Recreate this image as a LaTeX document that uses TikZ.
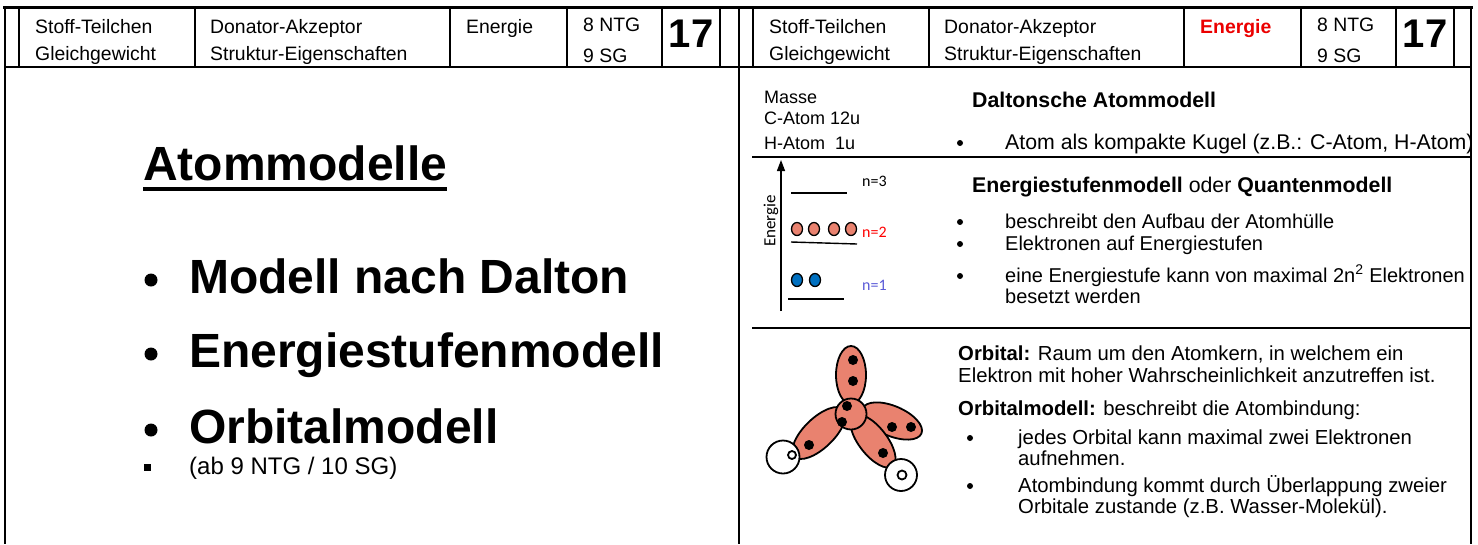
\documentclass[tikz,border=0pt]{standalone}
\usepackage{fontspec}
\setmainfont{Liberation Sans}
\newfontfamily\calfont{Carlito}
\usetikzlibrary{arrows.meta}

\definecolor{lobe}{RGB}{233,130,111}
\definecolor{eblue}{RGB}{0,112,192}
\definecolor{nblue}{RGB}{90,90,215}
\definecolor{hdrred}{RGB}{235,0,0}
\newcommand{\px}[1]{\fontsize{#1}{#1}\selectfont}

\begin{document}
\begin{tikzpicture}[x=1pt,y=-1pt,
  txt/.style={anchor=base west,inner sep=0pt},
  hdr/.style={txt,font=\px{19.4}},
  small/.style={txt,font=\px{18}},
  body/.style={txt,font=\px{21.3}},
  orbt/.style={txt,font=\px{20.3}},
  list/.style={txt,font=\px{20}},
  big/.style={txt,font=\px{48}\bfseries},
  nlab/.style={txt,font=\calfont\px{16}},
  rule/.style={line width=2pt},
  thin/.style={line width=1.4pt},
  orb/.style={line width=1.8pt,fill=lobe},
  hatom/.style={line width=1.8pt,fill=white}]
\useasboundingbox (0,0) rectangle (1478,544);

% frame
\draw[line width=3pt] (3,7) -- (1473,7);
\draw[rule] (5,67) -- (1471,67);
\foreach \xx in {5,739,1471}
  \draw[rule] (\xx,7) -- (\xx,544);

% header cells, left and right page
\foreach \ox/\ecol/\eser in {0/black/\mdseries, 734/hdrred/\bfseries} {
  \foreach \xx in {19,195,450,567,662,720}
    \draw[rule] (\ox+\xx,7) -- (\ox+\xx,67);
  \node[hdr] (stoff\ox) at (\ox+35,33) {Stoff-Teilchen};
  \node[hdr] (gleich\ox) at (\ox+35,60) {Gleichgewicht};
  \node[hdr] (donat\ox) at (\ox+210,33) {Donator-Akzeptor};
  \node[hdr] (struk\ox) at (\ox+210,60) {Struktur-Eigenschaften};
  \node[hdr,text=\ecol,font=\px{19.4}\eser] (energ\ox) at (\ox+466,33) {Energie};
  \node[hdr] (ntg\ox) at (\ox+583,31) {8 NTG};
  \node[hdr] (sg\ox) at (\ox+583,62) {9 SG};
  \node[anchor=base,inner sep=0pt,font=\px{40}\bfseries] (num\ox) at (\ox+691,47) {17};
}

% left page
\node[txt,font=\px{48}\bfseries] (title) at (143,180) {Atommodelle};
\draw[line width=3.5pt] ([yshift=-9pt]title.base west) -- ([yshift=-9pt]title.base east);

\node[big] (dalton) at (189,293) {Modell nach Dalton};
\node[big] (stufen) at (189,367) {Energiestufenmodell};
\node[big] (orbit) at (189,443) {Orbitalmodell};
\node[txt,font=\px{24}] (abntg) at (189,474) {(ab 9 NTG / 10 SG)};
\foreach \yy in {280,354,430}
  \fill (151,\yy) circle (6.5);
\fill (143.5,463.5) rectangle (150.5,470.5);

% right page: separators
\draw[thin] (752,157) -- (1471,157);
\draw[thin] (752,328) -- (1471,328);

% Dalton
\node[small] (masse) at (764,103) {Masse};
\node[small] (catom) at (764,124) {C-Atom 12u};
\node[small] (hmass) at (764,149) {H-Atom~~1u};
\node[body,font=\px{21.3}\bfseries] (dhead) at (972,107) {Daltonsche Atommodell};
\node[body] (kugel) at (1005,149) {Atom als kompakte Kugel (z.B.: C-Atom, H-Atom)};
\fill (960,143) circle (3);

% energy levels
\coordinate (ebase) at (781,311);
\coordinate (etop) at (781,160);
\draw[thin,-{Triangle[width=8pt,length=11pt]}] (ebase) -- (etop);
\node[inner sep=0pt,rotate=90,font=\calfont\px{17}] (elab) at (771,221) {Energie};
\draw[thin] (791,193) -- (847,193);
\draw[thin] (791,242) -- (857,244);
\draw[thin] (788,299) -- (844,299);
\foreach \xx in {797,814,834,851}
  \draw[line width=1.3pt,fill=lobe] (\xx,229) ellipse [x radius=5.5, y radius=6.5];
\foreach \xx in {797,815}
  \draw[line width=1.3pt,fill=eblue] (\xx,280) ellipse [x radius=5.5, y radius=6.5];
\node[nlab] (n3) at (862,186) {n=3};
\node[nlab,text=red] (n2) at (862,237) {n=2};
\node[nlab,text=nblue] (n1) at (862,290) {n=1};

\node[body] (ehead) at (972,192) {\textbf{Energiestufenmodell} oder \textbf{Quantenmodell}};
\node[list] (aufbau) at (1005,228) {beschreibt den Aufbau der Atomhülle};
\node[list] (elek) at (1005,250) {Elektronen auf Energiestufen};
\node[list] (maxim) at (1005,282) {eine Energiestufe kann von maximal 2n\textsuperscript{2} Elektronen};
\node[list] (beset) at (1005,303) {besetzt werden};
\foreach \yy in {222,244,276}
  \fill (960,\yy) circle (3);

% orbitals
\draw[orb,rotate around={-23:(892,421)}] (892,421) ellipse [x radius=32, y radius=15];
\draw[orb,rotate around={-52:(873,441)}] (873,441) ellipse [x radius=32, y radius=14];
\draw[orb,rotate around={44:(819,433)}] (819,433) ellipse [x radius=34, y radius=15];
\draw[orb] (851,375) ellipse [x radius=15, y radius=29];
\draw[orb] (851,414) circle (15.5);
\foreach \xx/\yy in {853/360,853/381,847/406,842/422,809/445,883/453,892/427,911/427}
  \fill (\xx,\yy) circle (5);
\draw[hatom] (783,457) circle (16.5);
\draw[hatom] (792,455) circle (4);
\draw[hatom] (901,475) circle (16);
\draw[hatom] (902,475) circle (4.5);

\node[orbt] (orbdef) at (958,360) {\textbf{Orbital:} Raum um den Atomkern, in welchem ein};
\node[orbt] (orbdef2) at (958,382) {Elektron mit hoher Wahrscheinlichkeit anzutreffen ist.};
\node[orbt] (orbmod) at (958,415) {\textbf{Orbitalmodell:} beschreibt die Atombindung:};
\node[orbt] (jedes) at (1018,444) {jedes Orbital kann maximal zwei Elektronen};
\node[orbt] (aufn) at (1018,465) {aufnehmen.};
\node[orbt] (bind) at (1018,492) {Atombindung kommt durch Überlappung zweier};
\node[orbt] (wasser) at (1018,513) {Orbitale zustande (z.B. Wasser-Molekül).};
\foreach \yy in {438,486}
  \fill (970,\yy) circle (3);
\end{tikzpicture}
\end{document}
